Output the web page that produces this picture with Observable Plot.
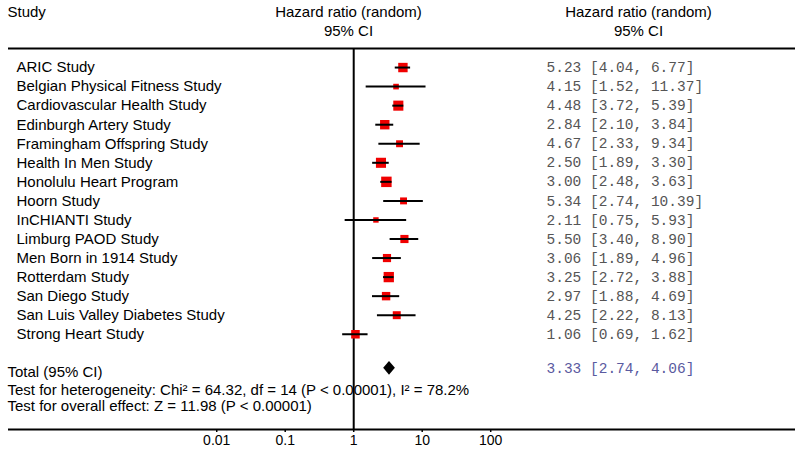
<!DOCTYPE html>
<html>
<head>
<meta charset="utf-8">
<script src="https://cdn.jsdelivr.net/npm/d3@7"></script>
<script src="https://cdn.jsdelivr.net/npm/@observablehq/plot@0.6"></script>
<style>
  html, body { margin: 0; padding: 0; background: #fff; }
  svg { display: block; }
</style>
</head>
<body>
<div id="chart"></div>
<script>
const studies = [
  "ARIC Study",
  "Belgian Physical Fitness Study",
  "Cardiovascular Health Study",
  "Edinburgh Artery Study",
  "Framingham Offspring Study",
  "Health In Men Study",
  "Honolulu Heart Program",
  "Hoorn Study",
  "InCHIANTI Study",
  "Limburg PAOD Study",
  "Men Born in 1914 Study",
  "Rotterdam Study",
  "San Diego Study",
  "San Luis Valley Diabetes Study",
  "Strong Heart Study"
];
const hr = [5.23, 4.15, 4.48, 2.84, 4.67, 2.50, 3.00, 5.34, 2.11, 5.50, 3.06, 3.25, 2.97, 4.25, 1.06];
const lo = [4.04, 1.52, 3.72, 2.10, 2.33, 1.89, 2.48, 2.74, 0.75, 3.40, 1.89, 2.72, 1.88, 2.22, 0.69];
const hi = [6.77, 11.37, 5.39, 3.84, 9.34, 3.30, 3.63, 10.39, 5.93, 8.90, 4.96, 3.88, 4.69, 8.13, 1.62];
// estimated study weights (%)
const weights = [8.1, 2.9, 9.3, 8.1, 4.4, 9.3, 10.0, 4.4, 2.7, 6.1, 6.1, 9.7, 6.5, 5.8, 6.7];

const totalLabel = "Total (95% CI)";
const totalHr = 3.33, totalLo = 2.74, totalHi = 4.06;
const footnotes = [
  "Test for heterogeneity: Chi\u00b2 = 64.32, df = 14 (P < 0.00001), I\u00b2 = 78.2%",
  "Test for overall effect: Z = 11.98 (P < 0.00001)"
];
const studyHeader = "Study";
const plotHeader = ["Hazard ratio (random)", "95% CI"];
const ciHeader = ["Hazard ratio (random)", "95% CI"];
const tickValues = [0.01, 0.1, 1, 10, 100];
const tickLabels = ["0.01", "0.1", "1", "10", "100"];

// ---- build rows ----
const rows = studies.map((s, i) => ({
  study: s, hr: hr[i], lo: lo[i], hi: hi[i], w: weights[i], row: i,
  ci: `${hr[i].toFixed(2)} [${lo[i].toFixed(2)}, ${hi[i].toFixed(2)}]`
}));
const totalRow = studies.length + 1;         // one blank row, then total
const totalCI = `${totalHr.toFixed(2)} [${totalLo.toFixed(2)}, ${totalHi.toFixed(2)}]`;
const diamondHalf = 0.36;
const diamond = [
  {x: totalLo, y1: totalRow, y2: totalRow},
  {x: totalHr, y1: totalRow - diamondHalf, y2: totalRow + diamondHalf},
  {x: totalHi, y1: totalRow, y2: totalRow}
];
const footRows = [totalRow + 0.92, totalRow + 1.76];
const axisRow = totalRow + 3;   // bottom of frame
const topRow = -1;
const headerRows = [-2.92, -1.89];

const sans = "Liberation Sans, Arial, sans-serif";
const mono = "Liberation Mono, Courier New, monospace";
const fs = 15;

const chart = Plot.plot({
  width: 800,
  height: 452,
  marginLeft: 8,
  marginRight: 5,
  marginTop: 48,
  marginBottom: 23,
  style: {fontFamily: sans, fontSize: "14px", background: "#fff"},
  x: {type: "log", domain: [Math.pow(10, -5.04), Math.pow(10, 6.45)], axis: null},
  y: {type: "linear", domain: [topRow, axisRow], reverse: true, axis: null},
  r: {domain: [0, 10], range: [0, 5.9]},
  marks: [
    // frame lines
    Plot.ruleY([topRow], {stroke: "#000", strokeWidth: 2}),
    Plot.ruleY([axisRow], {stroke: "#000", strokeWidth: 2}),
    Plot.ruleX([1], {y1: topRow, y2: axisRow, stroke: "#000", strokeWidth: 2}),
    // x axis
    Plot.axisX({
      anchor: "bottom", ticks: tickValues,
      tickFormat: (d) => tickLabels[tickValues.indexOf(d)],
      tickSize: 3, tickPadding: 3, fontSize: 14, stroke: "#000", strokeWidth: 1.5, fill: "#000"
    }),
    // markers
    Plot.dot(rows, {x: "hr", y: "row", r: "w", symbol: "square", fill: "#f00000", stroke: "none"}),
    Plot.ruleY(rows, {y: "row", x1: "lo", x2: "hi", stroke: "#000", strokeWidth: 2}),
    // total diamond
    Plot.area(diamond, {x1: "x", y1: "y1", y2: "y2", fill: "#000", dy: -4}),
    // headers
    Plot.text([studyHeader], {frameAnchor: "left", y: headerRows[0], text: (d) => d, textAnchor: "start", dx: -1, fontSize: fs, fill: "#000"}),
    Plot.text(plotHeader, {frameAnchor: "left", y: (d, i) => headerRows[i], text: (d) => d, textAnchor: "middle", dx: 340, fontSize: fs, fill: "#000"}),
    Plot.text(ciHeader, {frameAnchor: "left", y: (d, i) => headerRows[i], text: (d) => d, textAnchor: "middle", dx: 630, fontSize: fs, fill: "#000"}),
    // study labels
    Plot.text(rows, {frameAnchor: "left", y: "row", text: "study", textAnchor: "start", dx: 8, fontSize: fs, fill: "#000"}),
    // CI column
    Plot.text(rows, {frameAnchor: "left", y: "row", text: "ci", textAnchor: "start", dx: 538, fontSize: 14.5, fontFamily: mono, fill: "#555"}),
    // total
    Plot.text([totalLabel], {frameAnchor: "left", y: totalRow, text: (d) => d, textAnchor: "start", dx: -1, fontSize: fs, fill: "#000"}),
    Plot.text([totalCI], {frameAnchor: "left", y: totalRow - 0.2, text: (d) => d, textAnchor: "start", dx: 538, fontSize: 14.5, fontFamily: mono, fill: "#5a5aa0"}),
    // footnotes
    Plot.text(footnotes, {frameAnchor: "left", y: (d, i) => footRows[i], text: (d) => d, textAnchor: "start", dx: -1, fontSize: fs, fill: "#000"})
  ]
});
document.getElementById("chart").appendChild(chart);
</script>
</body>
</html>
